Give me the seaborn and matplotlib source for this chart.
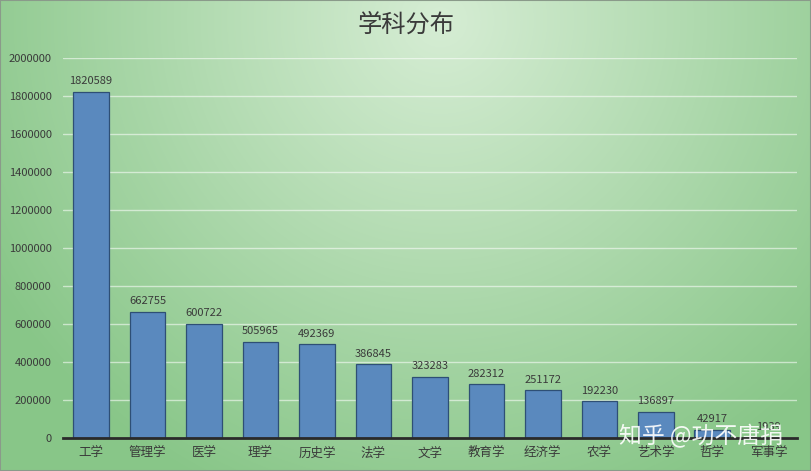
import numpy as np
import matplotlib
matplotlib.use("Agg")
import matplotlib.pyplot as plt
import seaborn as sns
import pandas as pd

# 各学科人数
categories = ["工学", "管理学", "医学", "理学", "历史学", "法学", "文学",
              "教育学", "经济学", "农学", "艺术学", "哲学", "军事学"]
values = [1820589, 662755, 600722, 505965, 492369, 386845, 323283,
          282312, 251172, 192230, 136897, 42917, 1939]
y_ticks = list(range(0, 2000001, 200000))

sns.set_theme(style="white")
plt.rcParams["font.family"] = ["Noto Sans CJK SC", "DejaVu Sans"]

W, H = 811, 471
fig = plt.figure(figsize=(W / 100, H / 100), dpi=100)

# 径向渐变背景
bg = fig.add_axes([0, 0, 1, 1], zorder=0)
yy, xx = np.mgrid[0:H, 0:W]
cx, cy = 440, 20
d = np.sqrt(((xx - cx) / 520.0) ** 2 + ((yy - cy) / 520.0) ** 2)
d = np.clip(d, 0, 1)
inner = np.array([214, 237, 212]) / 255.0
outer = np.array([136, 198, 136]) / 255.0
img = inner[None, None, :] * (1 - d[..., None]) + outer[None, None, :] * d[..., None]
bg.imshow(img, aspect="auto", extent=[0, 1, 0, 1], origin="upper")
bg.set_xlim(0, 1)
bg.set_ylim(0, 1)
bg.axis("off")
bg.add_patch(plt.Rectangle((0, 0), 1, 1, transform=bg.transAxes, fill=False,
                           edgecolor="#8a9a8a", linewidth=1.5))

ax = fig.add_axes([62.75 / W, 1 - 438 / H, (797 - 62.75) / W, 380 / H], zorder=1)
ax.patch.set_alpha(0)

df = pd.DataFrame({"学科": categories, "人数": values})
sns.barplot(data=df, x="学科", y="人数", ax=ax, color="#5a89be",
            saturation=1, width=0.63, edgecolor="#2e4f75", linewidth=0.9,
            zorder=3)

for i, v in enumerate(values):
    ax.text(i, v + 30000, str(v), ha="center", va="bottom",
            fontsize=8, color="#3a3a3a", zorder=4)

ax.set_ylim(0, 2000000)
ax.set_xlim(-0.5, len(categories) - 0.5)
ax.set_yticks(y_ticks)
ax.set_yticklabels([str(t) for t in y_ticks])
ax.yaxis.grid(True, color="white", alpha=0.55, linewidth=1, zorder=0)
ax.set_axisbelow(True)
ax.tick_params(axis="y", length=0, pad=8, labelsize=8, labelcolor="#3a3a3a")
ax.tick_params(axis="x", length=0, pad=6, labelsize=9, labelcolor="#3a3a3a")
ax.set_xlabel("")
ax.set_ylabel("")
for s in ["top", "right", "left"]:
    ax.spines[s].set_visible(False)
ax.spines["bottom"].set_color("#2a2a2a")
ax.spines["bottom"].set_linewidth(2)
ax.spines["bottom"].set_zorder(5)

fig.text(406 / W, 1 - 25 / H, "学科分布", ha="center", va="center",
         fontsize=17.5, color="#3a3a3a", fontweight="medium")

# 水印
fig.text(701 / W, 1 - 436 / H, "知乎 @功不唐捐", ha="center", va="center",
         fontsize=16.5, color="white", alpha=0.9, zorder=10)

fig.savefig("out.png", dpi=100)
